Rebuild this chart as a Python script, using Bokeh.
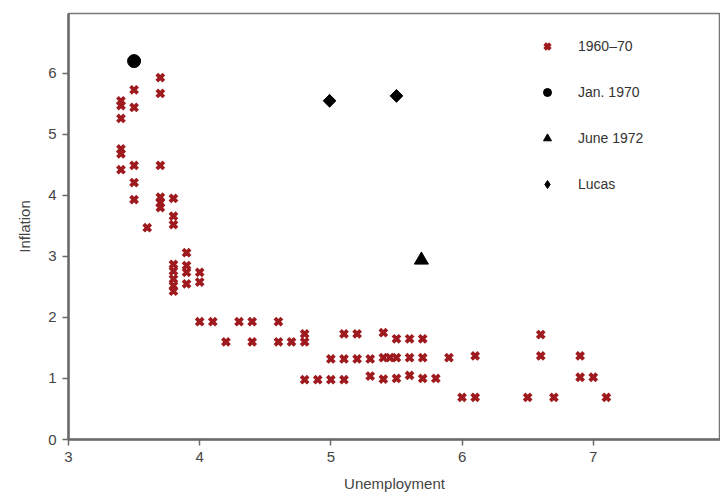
from bokeh.plotting import figure
from bokeh.models import Range1d, FixedTicker, Legend, LegendItem
from bokeh.embed import file_html
from bokeh.resources import INLINE

# 1960-70 observations (unemployment, inflation)
cross_x = [3.4, 3.4, 3.4, 3.4, 3.4, 3.4,
           3.5, 3.5, 3.5, 3.5, 3.5,
           3.6,
           3.7, 3.7, 3.7, 3.7, 3.7, 3.7,
           3.8, 3.8, 3.8, 3.8, 3.8, 3.8, 3.8, 3.8,
           3.9, 3.9, 3.9, 3.9,
           4.0, 4.0,
           4.0, 4.1, 4.3, 4.4, 4.6,
           4.2, 4.4, 4.6, 4.7, 4.8, 4.8,
           5.1, 5.2, 5.4, 5.5, 5.6, 5.7,
           5.0, 5.1, 5.2, 5.3, 5.4, 5.45, 5.5, 5.6, 5.7, 5.9, 6.1,
           4.8, 4.9, 5.0, 5.1, 5.3, 5.4, 5.5, 5.6, 5.7, 5.8,
           6.0, 6.1, 6.5, 6.7, 7.1,
           6.6, 6.6, 6.9, 6.9, 7.0]
cross_y = [5.55, 5.47, 5.26, 4.76, 4.68, 4.42,
           5.73, 5.44, 4.49, 4.21, 3.93,
           3.47,
           5.93, 5.67, 4.49, 3.97, 3.88, 3.80,
           3.95, 3.66, 3.52, 2.87, 2.76, 2.63, 2.52, 2.43,
           3.06, 2.85, 2.74, 2.55,
           2.74, 2.58,
           1.93, 1.93, 1.93, 1.93, 1.93,
           1.60, 1.60, 1.60, 1.60, 1.60, 1.73,
           1.73, 1.73, 1.75, 1.65, 1.65, 1.65,
           1.32, 1.32, 1.32, 1.32, 1.34, 1.34, 1.34, 1.34, 1.34, 1.34, 1.37,
           0.98, 0.98, 0.98, 0.98, 1.04, 0.99, 1.00, 1.05, 1.00, 1.00,
           0.69, 0.69, 0.69, 0.69, 0.69,
           1.72, 1.37, 1.37, 1.02, 1.02]

jan70_x = [3.5]
jan70_y = [6.2]

june72_x = [5.69]
june72_y = [2.94]

lucas_x = [4.99, 5.5]
lucas_y = [5.55, 5.63]

legend_labels = ["1960\u201370", "Jan. 1970", "June 1972", "Lucas"]
x_ticks = [3, 4, 5, 6, 7, 8]
y_ticks = [0, 1, 2, 3, 4, 5, 6, 7]

FONT = "Liberation Sans"
RED = "#9e1a1e"

p = figure(width=720, height=500, output_backend="svg", toolbar_location=None,
           x_range=Range1d(3, 7.97), y_range=Range1d(0, 6.98),
           min_border_left=68, min_border_right=0, min_border_top=13, min_border_bottom=61)

p.xgrid.visible = False
p.ygrid.visible = False
p.outline_line_color = "#777777"
p.outline_line_width = 1.5
p.background_fill_color = "white"
p.border_fill_color = "white"

for ax in (p.xaxis[0], p.yaxis[0]):
    ax.axis_line_color = "#6a6a6a"
    ax.axis_line_width = 2.5
    ax.major_tick_line_color = "#6a6a6a"
    ax.major_tick_line_width = 1.5
    ax.major_tick_out = 6
    ax.major_tick_in = 0
    ax.minor_tick_line_color = None
    ax.major_label_text_font = FONT
    ax.major_label_text_font_size = "15px"
    ax.major_label_text_color = "#444444"
    ax.axis_label_text_font = FONT
    ax.axis_label_text_font_size = "15px"
    ax.axis_label_text_font_style = "normal"
    ax.axis_label_text_color = "#444444"

p.xaxis.ticker = FixedTicker(ticks=x_ticks)
p.yaxis.ticker = FixedTicker(ticks=y_ticks)
p.xaxis.axis_label = "Unemployment"
p.yaxis.axis_label = "Inflation"
p.xaxis.major_label_standoff = 6
p.yaxis.major_label_standoff = 6
p.xaxis.axis_label_standoff = 10
p.yaxis.axis_label_standoff = 12

r1 = p.scatter(cross_x, cross_y, marker="x", size=10, line_color=RED, line_width=3.8)
r2 = p.scatter(jan70_x, jan70_y, marker="circle", size=13, fill_color="black", line_color="black")
r3 = p.scatter(june72_x, june72_y, marker="triangle", size=14, fill_color="black", line_color="black")
# diamond glyph (used for the legend swatch), covered by a rotated square of the same points
r4_leg = p.scatter(lucas_x, lucas_y, marker="diamond", size=12, fill_color="black", line_color="black")
r4 = p.scatter(lucas_x, lucas_y, marker="square", angle=0.785398, size=9,
               fill_color="black", line_color="black")

legend = Legend(items=[LegendItem(label=legend_labels[0], renderers=[r1]),
                       LegendItem(label=legend_labels[1], renderers=[r2]),
                       LegendItem(label=legend_labels[2], renderers=[r3]),
                       LegendItem(label=legend_labels[3], renderers=[r4_leg])],
                location=(469, 245), border_line_color=None, background_fill_alpha=0,
                padding=5, spacing=26, glyph_height=20, glyph_width=20, label_height=20,
                label_standoff=21, label_text_font=FONT, label_text_font_size="14px",
                label_text_color="#333333")
p.add_layout(legend, "center")

open("out.html", "w").write(file_html(p, INLINE))
